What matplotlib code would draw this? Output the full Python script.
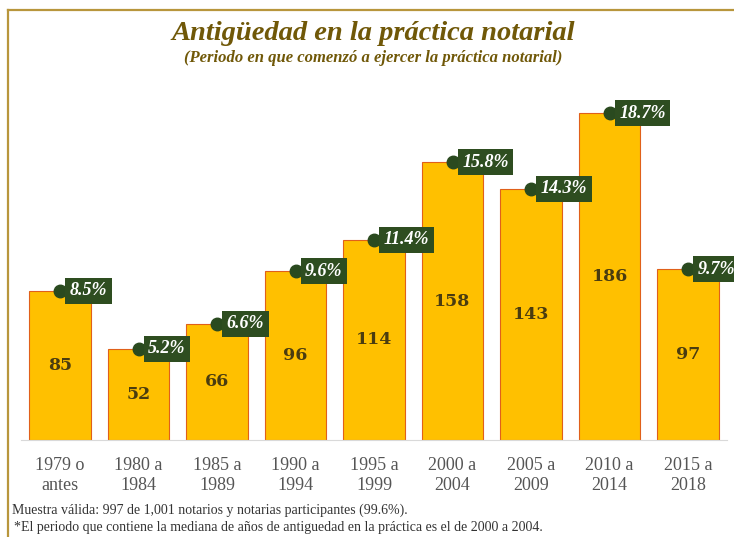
import matplotlib.pyplot as plt
from matplotlib.lines import Line2D

periods = ['1979 o\nantes', '1980 a\n1984', '1985 a\n1989', '1990 a\n1994', '1995 a\n1999',
           '2000 a\n2004', '2005 a\n2009', '2010 a\n2014', '2015 a\n2018']
counts = [85, 52, 66, 96, 114, 158, 143, 186, 97]
shares = ['8.5', '5.2', '6.6', '9.6', '11.4', '15.8', '14.3', '18.7', '9.7']

title = 'Antigüedad en la práctica notarial'
subtitle = '(Periodo en que comenzó a ejercer la práctica notarial)'
notes = ['Muestra válida: 997 de 1,001 notarios y notarias participantes (99.6%).',
         '*El periodo que contiene la mediana de años de antiguedad en la práctica es el de 2000 a 2004.']

plt.rcParams['font.family'] = ['Liberation Serif', 'DejaVu Serif']

W, H = 734, 537
fig = plt.figure(figsize=(W / 100, H / 100), dpi=100)

# golden frame (top and left only visible)
gold = '#b8963c'
fig.add_artist(Line2D([8 / W, 1], [1 - 10 / H, 1 - 10 / H], color=gold, lw=1.6))
fig.add_artist(Line2D([8 / W, 8 / W], [0, 1 - 10 / H], color=gold, lw=1.6))

fig.text(373 / W, 1 - 33 / H, title, ha='center', va='center', fontsize=20.5,
         fontweight='bold', fontstyle='italic', color='#705808')
fig.text(373 / W, 1 - 58 / H, subtitle, ha='center', va='center', fontsize=12,
         fontweight='bold', fontstyle='italic', color='#705808')

ax = fig.add_axes([20.75 / W, 97 / H, 706.5 / W, (440 - 88.4) / H])
x = range(len(counts))
ax.bar(x, counts, width=0.78, color='#ffc000', edgecolor='#e0601a', linewidth=0.8, zorder=2)
ax.set_xlim(-0.5, len(counts) - 0.5)
ax.set_ylim(0, 200)

for i, (c, s) in enumerate(zip(counts, shares)):
    ax.text(i, c / 2, str(c), ha='center', va='center', fontsize=12.5, family='DejaVu Serif',
            fontweight='bold', color='#4a3c10', zorder=3)
    ax.plot(i, c, 'o', ms=9, color='#2a4a1f', zorder=4, clip_on=False)
    ax.annotate(s + '%', xy=(i, c), xytext=(7, 0), textcoords='offset points',
                ha='left', va='center', fontsize=13, fontweight='bold',
                fontstyle='italic', color='white', zorder=5, annotation_clip=False,
                bbox=dict(boxstyle='square,pad=0.25', fc='#2e4d20', ec='none'))

for side in ['top', 'right', 'left']:
    ax.spines[side].set_visible(False)
ax.spines['bottom'].set_color('#d9d9d9')
ax.set_yticks([])
ax.set_xticks(list(x))
ax.set_xticklabels(periods, fontsize=13, color='#555555', linespacing=1.25)
ax.tick_params(axis='x', length=0, pad=12)

fig.text(12 / W, 1 - 510 / H, notes[0], ha='left', va='center', fontsize=10, color='#333333')
fig.text(14 / W, 1 - 527 / H, notes[1], ha='left', va='center', fontsize=10, color='#333333')

fig.savefig('out.png', dpi=100)
